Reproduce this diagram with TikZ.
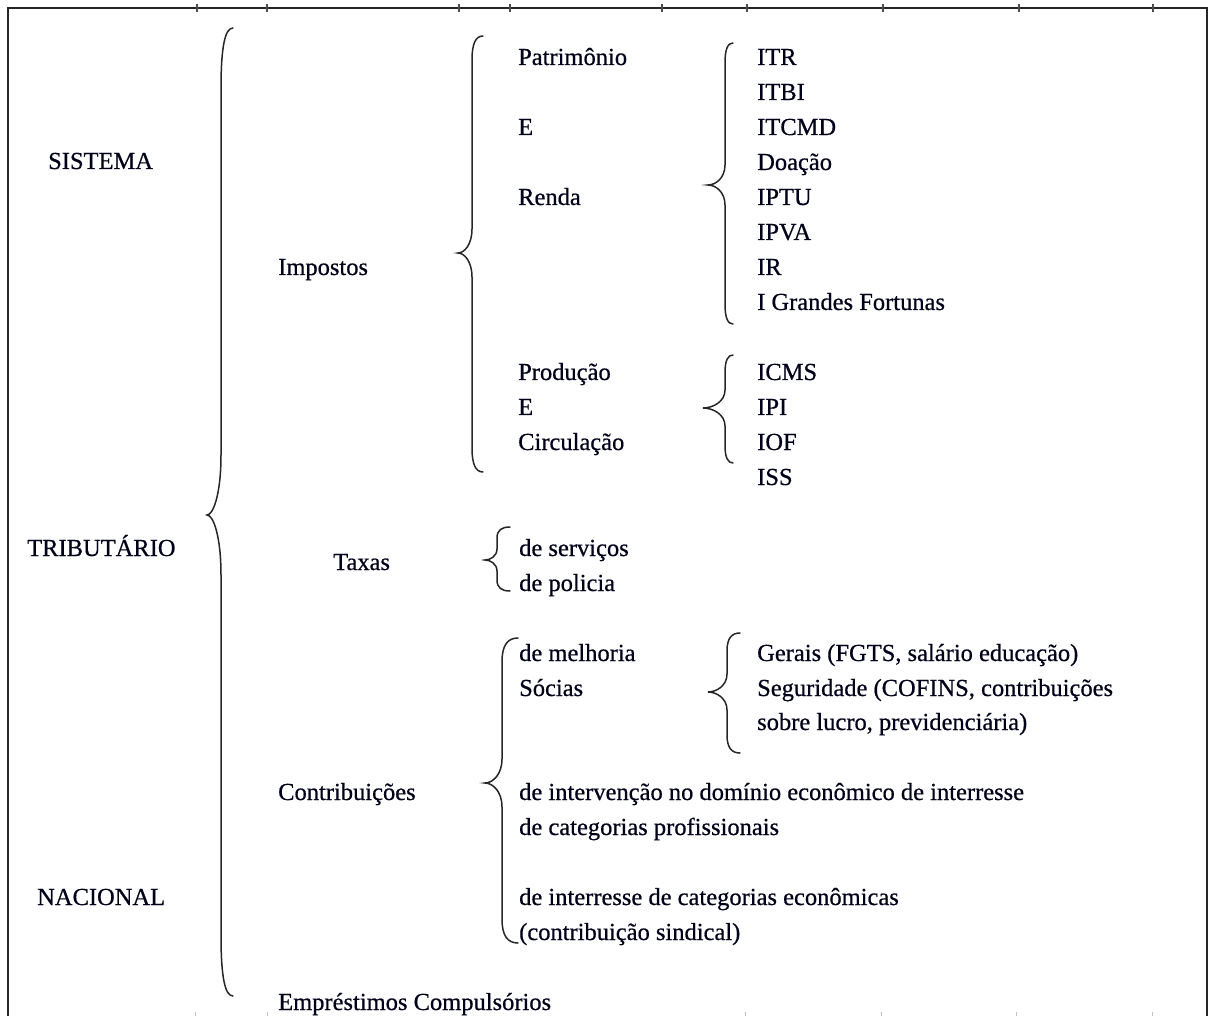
\documentclass[tikz,border=0pt]{standalone}
\usepackage{fontspec}
\setmainfont{Liberation Serif}[FakeBold=0.6]
\newcommand\mybrace[7]{%
  % #1 xend, #2 xline, #3 xtip, #4 ytop, #5 ytip, #6 ybot, #7 r
  \draw[bracestyle] (#1,#4) .. controls ({#2+0.35*(#1-#2)},#4) and (#2,{#4+0.3*#7}) .. (#2,#4+#7)
    -- (#2,#5-#7) .. controls (#2,{#5-0.35*#7}) and ({#3+0.45*(#2-#3)},#5) .. (#3,#5)
    .. controls ({#3+0.45*(#2-#3)},#5) and (#2,{#5+0.35*#7}) .. (#2,#5+#7)
    -- (#2,#6-#7) .. controls (#2,{#6-0.3*#7}) and ({#2+0.35*(#1-#2)},#6) .. (#1,#6);}
\tikzset{
  bracestyle/.style={line width=1.5pt, draw=black!85, line cap=round},
  lbl/.style={anchor=base west, inner sep=0pt, font=\fontsize{24.5}{29}\selectfont, text=black!90!blue},
  frame/.style={line width=2pt, draw=black!85},
  tick/.style={line width=1.2pt, draw=black!70},
  faint/.style={line width=1pt, draw=black!25}
}
\begin{document}
\begin{tikzpicture}[x=1pt,y=-1pt]
\useasboundingbox (0,0) rectangle (1211,1016);
% frame
\draw[frame] (8,1016) -- (8,8) -- (1207,8) -- (1207,1016);
\foreach \t in {197,267,459,510,662,747,883,1019,1153}{\draw[tick] (\t,4) -- (\t,12);}
\foreach \t in {195,267,745,881,1016,1152}{\draw[faint] (\t,1012) -- (\t,1016);}
% left labels
\node[lbl] (sis) at (48,169) {SISTEMA};
\node[lbl] (tri) at (27,556) {TRIBUTÁRIO};
\node[lbl] (nac) at (37,905) {NACIONAL};
% braces
\mybrace{233}{221}{207}{28}{515}{996}{60}
\mybrace{483}{472}{458}{36}{253}{472}{24}
\mybrace{733}{725}{708}{43}{185}{324}{20}
\mybrace{733}{725}{703}{355}{408}{463}{18}
\mybrace{510}{497}{485}{527}{560}{591}{11}
\mybrace{518}{502}{485}{638}{783}{943}{24}
\mybrace{740}{727}{708}{633}{692}{753}{18}
% level 1
\node[lbl] (imp) at (278,275) {Impostos};
\node[lbl] (tax) at (333,570) {Taxas};
\node[lbl] (con) at (278,800) {Contribuições};
\node[lbl] (emp) at (278,1010) {Empréstimos Compulsórios};
% impostos
\node[lbl] (pat) at (518,65) {Patrimônio};
\node[lbl] (e1) at (518,135) {E};
\node[lbl] (ren) at (518,205) {Renda};
\node[lbl] (pro) at (518,380) {Produção};
\node[lbl] (e2) at (518,415) {E};
\node[lbl] (cir) at (518,450) {Circulação};
\node[lbl] (itr) at (757,65) {ITR};
\node[lbl] (itbi) at (757,100) {ITBI};
\node[lbl] (itcmd) at (757,135) {ITCMD};
\node[lbl] (doa) at (757,170) {Doação};
\node[lbl] (iptu) at (757,205) {IPTU};
\node[lbl] (ipva) at (757,240) {IPVA};
\node[lbl] (ir) at (757,275) {IR};
\node[lbl] (igf) at (757,310) {I Grandes Fortunas};
\node[lbl] (icms) at (757,380) {ICMS};
\node[lbl] (ipi) at (757,415) {IPI};
\node[lbl] (iof) at (757,450) {IOF};
\node[lbl] (iss) at (757,485) {ISS};
% taxas
\node[lbl] (ser) at (519,556) {de serviços};
\node[lbl] (pol) at (519,591) {de policia};
% contribuicoes
\node[lbl] (mel) at (519,661) {de melhoria};
\node[lbl] (soc) at (519,696) {Sócias};
\node[lbl] (ger) at (757,661) {Gerais (FGTS, salário educação)};
\node[lbl] (seg) at (757,696) {Seguridade (COFINS, contribuições};
\node[lbl] (seg2) at (757,730) {sobre lucro, previdenciária)};
\node[lbl] (int1) at (519,800) {de intervenção no domínio econômico de interresse};
\node[lbl] (int2) at (519,835) {de categorias profissionais};
\node[lbl] (cat1) at (519,905) {de interresse de categorias econômicas};
\node[lbl] (cat2) at (519,940) {(contribuição sindical)};
\end{tikzpicture}
\end{document}
